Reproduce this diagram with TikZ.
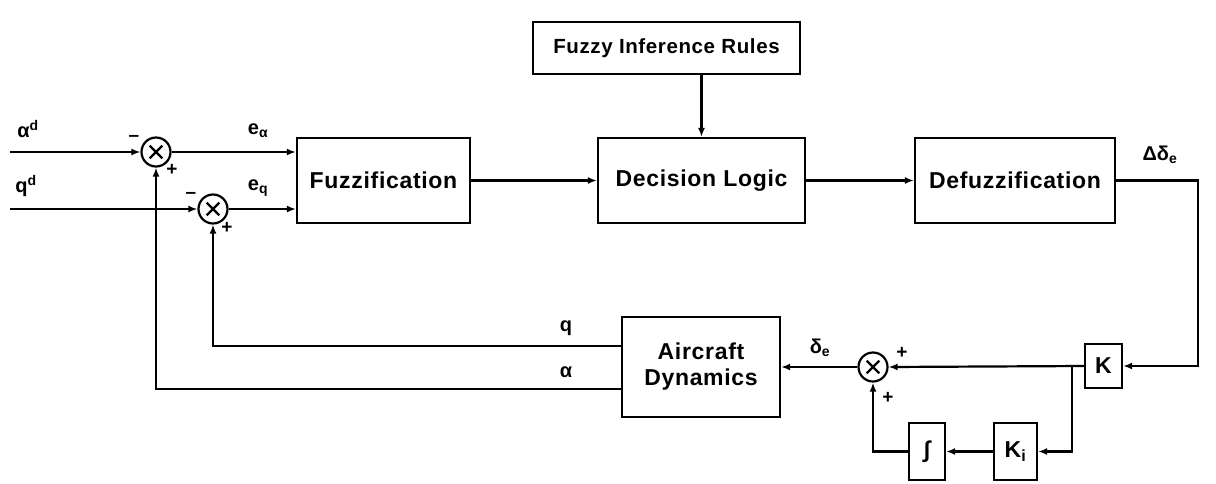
\documentclass[tikz,border=0pt]{standalone}
\usepackage{fontspec}
\setmainfont{Liberation Sans}
\newfontfamily\widefont[LetterSpace=3]{Liberation Sans}
\usetikzlibrary{arrows.meta}
\begin{document}
\begin{tikzpicture}[x=1pt,y=-1pt,
  blk/.style={draw,line width=2.2pt,inner sep=0pt,align=center,
    font=\widefont\fontsize{23}{26}\selectfont\bfseries},
  sumj/.style={draw,circle,line width=2.2pt,minimum size=29pt,inner sep=0pt,
    path picture={\draw[line width=2.2pt]
      (path picture bounding box.center) +(45:9pt) -- +(225:9pt)
      (path picture bounding box.center) +(135:9pt) -- +(315:9pt);}},
  sig/.style={line width=2.2pt,-{Latex[length=9pt,width=7pt]}},
  lbl/.style={font=\fontsize{20}{23}\selectfont\bfseries,inner sep=0pt},
  sgn/.style={font=\fontsize{19}{20}\selectfont\bfseries,inner sep=0pt}]
\useasboundingbox (0,0) rectangle (1216,483);

% blocks
\node[blk,minimum width=267pt,minimum height=52pt,
  font=\widefont\fontsize{20.5}{24}\selectfont\bfseries] (fir) at (666.5,48) {Fuzzy Inference Rules};
\node[blk,minimum width=173pt,minimum height=85pt] (fz) at (383.5,180.5) {Fuzzification};
\node[blk,minimum width=207pt,minimum height=85pt] (dl) at (701.5,180.5) {Decision Logic};
\node[blk,minimum width=200pt,minimum height=85pt] (df) at (1015,180.5) {Defuzzification};
\node[blk,minimum width=158pt,minimum height=100pt] (ad) at (701,367) {Aircraft\\Dynamics};
\node[blk,minimum width=37pt,minimum height=44pt] (k) at (1103.5,366) {K};
\node[blk,minimum width=43pt,minimum height=57pt] (ki) at (1015.5,451.5) {K\textsubscript{i}};
\node[blk,minimum width=36pt,minimum height=57pt] (int) at (927,451.5) {∫};

% summing junctions
\node[sumj] (s1) at (156,152) {};
\node[sumj] (s2) at (213,209) {};
\node[sumj] (s3) at (873,367) {};

% free ends and branch points
\coordinate (ain) at (10,152);
\coordinate (qin) at (10,209);
\coordinate (c1) at (1198,366);
\coordinate (br) at (1072,366);

% forward path
\draw[sig] (ain) -- (s1.west);
\draw[sig] (qin) -- (s2.west);
\draw[sig] (s1.east) -- (fz.west |- s1);
\draw[sig] (s2.east) -- (fz.west |- s2);
\draw[sig] (fz.east) -- (dl.west);
\draw[sig] (fir.south -| dl.north) -- (dl.north);
\draw[sig] (dl.east) -- (df.west);
\draw[sig] (df.east) -| (c1) -- (k.east);
\draw[sig] (k.west) -- (s3.east);
\draw[sig] (br) |- (ki.east);
\draw[sig] (ki.west) -- (int.east);
\draw[sig] (int.west) -| (s3.south);
\draw[sig] (s3.west) -- (ad.east);

% feedback
\draw[sig] ([yshift=21pt]ad.west) -| (s2.south);
\draw[sig] ([yshift=-22pt]ad.west) -| (s1.south);

% labels
\node[lbl] (lad) at (28,129) {α\textsuperscript{d}};
\node[lbl] (lqd) at (26,186) {q\textsuperscript{d}};
\node[sgn] (m1) at (134,138) {–};
\node[sgn] (p1) at (172,170) {+};
\node[sgn] (m2) at (191,195) {–};
\node[sgn] (p2) at (227,228) {+};
\node[lbl] (lea) at (258,131) {e\textsubscript{α}};
\node[lbl] (leq) at (258,188) {e\textsubscript{q}};
\node[lbl] (lq) at (566,328) {q};
\node[lbl] (la) at (566,372) {α};
\node[lbl] (lde) at (820,348) {δ\textsubscript{e}};
\node[sgn] (p3) at (902,353) {+};
\node[sgn] (p4) at (888,398) {+};
\node[lbl] (ldde) at (1160,155) {Δδ\textsubscript{e}};
\end{tikzpicture}
\end{document}
